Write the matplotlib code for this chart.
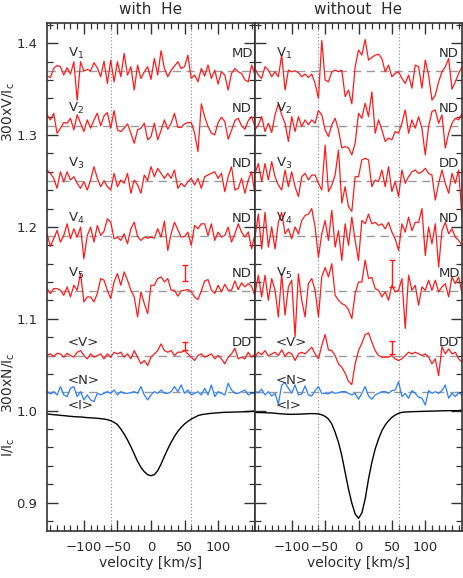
import numpy as np
import matplotlib
matplotlib.use("Agg")
import matplotlib.pyplot as plt
from matplotlib.ticker import MultipleLocator

# velocity grid of the LSD profiles (km/s)
velocity = np.arange(-155, 156, 5)

# vertical offsets of the stacked profiles
v_offsets = [1.37, 1.31, 1.25, 1.19, 1.13, 1.06]
n_offset = 1.02
v_labels = ["V$_1$", "V$_2$", "V$_3$", "V$_4$", "V$_5$", "<V>"]

# detection flags
flags_with = ["MD", "ND", "ND", "ND", "ND", "DD"]
flags_without = ["ND", "ND", "DD", "ND", "MD", "DD"]

# 300xV/Ic deviations, units of 1e-3 (with He)
with_v1 = [-5.8, -7.3, 2.5, 5.8, 4.4, -4.7, 3.3, -3.6, 9.8, -32,
           9.8, -0.4, 1.5, 0, 8.7, 3.3, -6.5, 10.5, -13.8, 11.6,
           -12, 9.8, -6.5, 18.9, -4.7, 4.4, -21, 6.2, -8.3, -1.1,
           4.4, -9.4, 13.4, -4.7, 21.8, 2.5, -6.5, 0.7, 5.1, 9.8,
           2.5, 4.4, 17, -8.3, -4.7, -12, 2.5, -5.8, 6.2, -8.3,
           0.7, -14.5, -1.1, -4.7, -21, -2.9, 2.5, -1.1, -2.9, -10,
           -12, 6.2, -4.7]
with_v2 = [12, 6.5, 13.8, -8, -2.5, 3.6, 2.9, 8.3, -4.4, 12,
           2.9, -6.2, 6.5, -2.5, 6.5, 13.8, 0, 10.9, 14.5, -2.5,
           16.7, -4.4, -6.2, -2.5, 2.2, -8, -18.9, -4.4, -2.5, 2.9,
           -15.2, -11.6, 2.9, -15.2, -5, 6.5, -3.6, 2.9, 13.8, -1.5,
           -1.8, 2.2, 3.6, 3.6, -8, -28, 24, 10, -0.7, -8,
           -9.8, 3.6, 9.4, 4.7, -14.5, -5, 5.8, 8.3, 0, -3.6,
           5.8, 10, -0.7]
with_v3 = [12, 8.3, 2.9, -8, 10, -0.7, 10, 1.1, 4.7, -2.5,
           -8, -0.7, -9.8, 1.1, 15.6, 2.9, -6.2, 0.4, -6.2, -9.8,
           8.3, -6.2, 1.1, -2.5, 8.3, -13.4, 1.1, -4.4, -13.4, 6.5,
           0.4, 15.6, 4.7, 13.8, 8.3, 2.9, 8.3, 2.9, 12, -8,
           -2.5, -6.2, -0.7, 2.9, -4.4, 2.9, -8, 4.7, 6.5, 8.3,
           10, 2.9, 8.3, -11.6, 4.7, 15.6, -9.8, -8, 2.9, -13.4,
           1.1, 10, -15.2]
with_v4 = [2.5, -11.2, -2.9, 6.2, -6.5, 0.7, 13.4, -2.9, 8, -1.1,
           9.8, -24.7, 0.7, 9.8, -6.5, 11.6, 0.7, 5.4, 18.9, 15,
           -2.9, -1.1, -4.7, 2.5, -8.3, 8, 15.2, -0.4, -4.7, -1.1,
           -2.2, -1.1, -2.2, 8, -1.1, 16.3, -15.6, 2.5, 15.2, 6.9,
           -1.1, -0.4, 4.4, -10.2, 11.6, 8, 13.4, 13.4, 0.7, 13.4,
           -4.7, 4.4, -1.1, 0.7, 9.8, -6.5, 2.5, 13.4, 4.4, -1.1,
           4.4, -13.8, 2.5]
with_v5 = [2.9, -2.5, 2.9, 2.9, 1.1, -4.4, 4.7, -6.2, 6.5, 1.1,
           19.2, -11.6, -6.2, -6.2, -11.6, -2.5, 13.8, 12, 1.1, -8,
           10.2, 19.2, 6.5, 21, 12, 1.1, -6.2, -28, -0.7, -13.4,
           -24.3, 6.5, 6.5, 13.8, 15.6, 10.2, 13.8, 1.1, 1.1, -5.4,
           0.4, 1.1, 1.8, -0.7, -6.2, -9.1, 0.4, 11.2, 12.7, 1.1,
           -2.5, 6.5, -0.7, 7.6, 1.1, 1.1, 11.2, 1.8, 9.1, 4.7,
           8.3, 5.4, -5.4]
with_vmean = [0, 1.8, -1.1, 2.5, 1.8, -1.8, 2.5, 0, -1.8, 3.6,
              5.4, 0, -3.6, 1.8, -1.8, 0, 1.8, -3.6, 1.8, -1.8,
              3.6, 1.8, 3.6, -1.8, 1.8, -3.6, 5.4, -1.8, -9, -5.4,
              -10.9, -1.8, 1.8, 5.4, 12.7, 5.4, 3.6, 5.4, 0, 3.6,
              3.6, 5.4, 1.8, -1.8, -5.4, 0, 1.8, -1.8, 0, 1.8,
              -3.6, 0, -3.6, -9, -1.8, 1.8, 8, -3.6, -1.8, -3.6,
              3.6, -1.8, 1.8]
with_n = [0.7, -1.8, 0.7, -2.9, 6.2, -2.9, -4.7, 4.4, 6.2, -4.7,
          0.7, -8.3, -2.9, -8.3, -10.2, -1.1, -2.9, -1.1, 0.7, -1.1,
          2.5, -2.9, 0.7, -1.1, -1.1, -0.4, 0.7, -1.1, 6.2, -2.9,
          -8.3, -2.9, 0.7, -1.1, 2.5, -1.1, -1.1, 0.7, 6.2, 0.7,
          8, -1.1, 2.5, -2.9, -1.1, 0.7, -2.9, 4.4, -2.9, 8,
          -4.7, 0.7, -1.1, -2.9, 9.8, 2.5, -1.1, -1.1, 0.7, 2.5,
          -2.9, -1.1, -1.1]
with_i = [0.9964, 0.996, 0.9956, 0.9953, 0.9949, 0.9946, 0.9942, 0.9938, 0.9935, 0.9933,
          0.9931, 0.9928, 0.9924, 0.9922, 0.992, 0.9917, 0.9913, 0.9909, 0.9902, 0.9891,
          0.9873, 0.9848, 0.98, 0.9746, 0.9681, 0.9608, 0.9528, 0.9448, 0.9383, 0.9336,
          0.9303, 0.9292, 0.9303, 0.9347, 0.9419, 0.9503, 0.9583, 0.9655, 0.972, 0.9775,
          0.9818, 0.9855, 0.9884, 0.9909, 0.9927, 0.9946, 0.9956, 0.9962, 0.9967, 0.9971,
          0.9974, 0.9977, 0.998, 0.9982, 0.9983, 0.9984, 0.9985, 0.9986, 0.9987, 0.9989,
          0.999, 0.9993, 0.9996]

# without He
wo_v1 = [2.5, -4.7, -8.3, 4.4, 0.7, -6.5, -1.1, -6.5, 17, -21,
         0.7, -1.1, 0, -2.2, -6.5, -3.6, -7.3, -3.6, -13.8, -30,
         33, -10, -12, -1.1, 0.7, -1, 0.7, -28, -21, -36,
         4.4, 22.5, 17, 34, 11.6, 14.5, 17, 18, 13.4, -1.1,
         6.2, -6.5, -2.9, -1.1, -8.3, -13.8, -4.7, -19, 6.2, 4.4,
         -19, 11.6, -4.7, -32, -26.5, -12, -1.1, 4.4, 13.4, -20,
         -12, -2.9, 4.4]
wo_v2 = [-4.4, 1.1, 10, -6.2, 2.9, -7.3, 12, 24, 12, 2.9,
         -17, 10, -6.2, 10, -0.7, 6.5, 1.1, 6.5, 2.9, 16.7,
         12, -4.4, -11.6, 1.1, 8.3, -4.4, -24, -22.5, -24, -31.6,
         -19, 13.8, 8.3, 24.7, 10, 37, -8, 6.5, -4.4, -17,
         -13.4, -15, -6.2, -8, 2.9, 17.4, -8, 6.5, -2.5, 10,
         -2.5, -31.6, -0.7, 15.6, 17.4, 2.9, 12, -24, -8, 2.9,
         8.3, 6.5, 13.8]
wo_v3 = [8.3, 19, -0.7, 19, 1.1, 21, 4.7, -4.4, -9.8, 12,
         -6.2, 10, -6.2, -17, 4.7, 8.3, 1.1, 6.5, 6.5, -2.5,
         -9.8, 39, -11.6, -4.4, 6.5, 33.8, -24, -6.2, -28, -33,
         4.7, 4.7, 23, 24.7, 23, -6.2, 1.1, -0.7, 12, -6.2,
         15.6, -11.6, -0.7, -17, 12, -2.5, 4.7, 10, 12, 8.3,
         10, 13.8, 8.3, 6.5, -20.7, -2.5, 12, -2.5, -13.4, 8.3,
         -2.5, 12, -40]
wo_v4 = [-1, 24, -14, 26, -12, 10, -14, 15, 26, 2.5,
         8, -3, 10, 2.5, 17, 22.5, 24, 30, 10, -23,
         2.5, 17, -4.7, 28, -12, 6, -26.5, 13.4, -10, 20.7,
         -4.7, -26.5, 17, 13.4, 24, 13.4, 15, 11.6, 13.4, 8,
         15, 4.4, -3, -15.6, 13.4, 4.4, 20.7, 6, 15, 15,
         30, -21, 10, -8.3, 13.4, -33.8, 6, 15, 2.5, 8,
         -1, -4.7, -10]
wo_v5 = [-2.5, 17.4, -6.2, 17.4, -9.8, 13.8, 1, -28, 19, -26,
         4.7, 12, -49.7, 19, -9.8, -28, 8.3, 13.8, 1, -28,
         15.6, 25.8, 15.6, 30, -4.4, -9.8, -13.4, -15.2, -20, -29.8,
         -2.5, 10, 10, 33.8, 13.8, 15, 2.9, 1, -6.2, -0.7,
         -9.8, 6.5, -0.7, 1, 13.8, -40.6, 17.4, 1, 6.5, -15.2,
         4.7, 1, 12, 1, 12, -0.7, 4.7, 8.3, -6.2, 15.6,
         8.3, 15.6, -2.5]
wo_vmean = [-1.8, 3.6, 1, 5.4, -0.7, 1.8, 3.6, 0, 6.2, -0.7,
            3.6, 1.8, -5.4, 1.8, 3.6, 1.8, 5.4, 9, 1.8, -3.6,
            10.9, 22.9, 6.2, 5.4, 0, -9, -12.7, -19.2, -28, -31.6,
            -9, 5.4, 13.4, 22.9, 24.7, 14.5, 5.4, 0, -1.8, -1.8,
            -1.8, 0, -3.6, -5.4, -3.6, 0, 3.6, 1.8, 3.6, 1.8,
            0, 1.8, -1.8, -9, -3.6, -21.8, 9.8, 1.8, 7.3, 1.8,
            3.6, -3.6, -7.3]
wo_n = [0.7, -0.4, 3.3, -2.9, 0.7, -4, -1.1, -12.7, 8, 10.5,
        4.4, -1.1, 8, -2.9, -1.8, 6.9, -2.9, -4, 1.8, 6.2,
        -1.1, -1.1, -1.8, 0.7, -1.1, -0.4, 0.7, 0.7, -1.1, -2.9,
        -1.1, -7.6, -1.1, 6.2, -4, -7.6, -2.9, -1.1, 0.7, 0.7,
        -1.1, 1.8, 2.5, 11.6, -4.7, -1.1, -6.5, 1.8, -1.1, -5.4,
        -6.5, -13.8, 1.8, -1.1, 0.7, -1.1, 1.8, 8, -6.5, -1.1,
        -4.7, -0.4, -2.9]
wo_i = [0.998, 0.998, 0.9979, 0.9978, 0.9976, 0.9975, 0.9972, 0.9968, 0.9965, 0.9963,
        0.9961, 0.996, 0.9961, 0.9962, 0.9963, 0.9965, 0.9967, 0.9968, 0.9967, 0.9965,
        0.9955, 0.9938, 0.9909, 0.9855, 0.9764, 0.9655, 0.951, 0.9328, 0.9147, 0.8994,
        0.8875, 0.8828, 0.8886, 0.9038, 0.9256, 0.9437, 0.9583, 0.9691, 0.9782, 0.9844,
        0.9891, 0.9927, 0.9953, 0.9971, 0.9982, 0.9985, 0.9987, 0.9989, 0.999, 0.9991,
        0.9992, 0.9993, 0.9994, 0.9995, 0.9996, 0.9997, 0.9998, 0.9999, 1.0, 1.0,
        1.0, 1.0, 1.0007]

# error bars (velocity, centre, half length) for V5 and <V>
err_with = [(50, 1.150, 0.009), (50, 1.070, 0.0045)]
err_without = [(50, 1.149, 0.0145), (50, 1.069, 0.007)]

RED = "#ff1a1a"
BLUE = "#2a7fff"
GREY = "#9a9a9a"
TXT = "#2b2b2b"

W, H = 463, 578
fig = plt.figure(figsize=(W / 100, H / 100), dpi=100)
ax1 = fig.add_axes([47 / W, 47 / H, 208 / W, 508 / H])
ax2 = fig.add_axes([255 / W, 47 / H, 207 / W, 508 / H])

panels = [
    (ax1, [with_v1, with_v2, with_v3, with_v4, with_v5, with_vmean], with_n, with_i, flags_with, err_with, "with  He"),
    (ax2, [wo_v1, wo_v2, wo_v3, wo_v4, wo_v5, wo_vmean], wo_n, wo_i, flags_without, err_without, "without  He"),
]

for ax, vs, n, ii, flags, errs, title in panels:
    for x in (-60, 60):
        ax.axvline(x, color="#888888", lw=0.8, ls=(0, (1, 2)))
    for k, (dev, off) in enumerate(zip(vs, v_offsets)):
        ax.axhline(off, color=GREY, lw=1.0, ls=(0, (6, 4)))
        ax.plot(velocity, off + np.array(dev) / 1000.0, color=RED, lw=0.9)
        ypos = off + (0.019 if k < 5 else 0.014)
        ax.text(-124, ypos, v_labels[k], fontsize=9.5, color=TXT, ha="left", va="center")
        ax.text(120, ypos, flags[k], fontsize=9.5, color=TXT, ha="left", va="center")
    ax.axhline(n_offset, color=GREY, lw=1.0, ls=(0, (6, 4)))
    ax.plot(velocity, n_offset + np.array(n) / 1000.0, color=BLUE, lw=0.9)
    ax.text(-124, n_offset + 0.013, "<N>", fontsize=9.5, color=TXT, ha="left", va="center")
    ax.plot(velocity, ii, color="black", lw=1.0)
    ax.text(-124, 1.0054, "<I>", fontsize=9.5, color=TXT, ha="left", va="center")
    for xe, ce, he in errs:
        ax.errorbar([xe], [ce], yerr=[he], fmt="none", ecolor=RED, elinewidth=1.0, capsize=2.5, capthick=1.0)

    ax.set_xlim(-155, 155)
    ax.set_ylim(0.869, 1.422)
    ax.xaxis.set_minor_locator(MultipleLocator(10))
    ax.yaxis.set_minor_locator(MultipleLocator(0.02))
    ax.set_xticks([-100, -50, 0, 50, 100])
    ax.set_xticklabels(["\u2212100", "\u221250", "0", "50", "100"])
    ax.tick_params(which="both", direction="in", top=True, right=True, colors="#333333",
                   labelcolor=TXT, labelsize=9.5)
    ax.tick_params(which="major", length=8, width=1.0, pad=7)
    ax.tick_params(which="minor", length=4, width=0.9)
    for s in ax.spines.values():
        s.set_linewidth(1.2)
        s.set_color("#333333")
    ax.set_xlabel("velocity [km/s]", fontsize=10, color=TXT, labelpad=2)
    x0 = ax.get_position().x0 + ax.get_position().width / 2
    fig.text(x0, 1 - 10 / H, title, fontsize=11, color=TXT, ha="center", va="center")

ax1.set_yticks([0.9, 1.0, 1.1, 1.2, 1.3, 1.4])
ax1.set_yticklabels(["0.9", "1.0", "1.1", "1.2", "1.3", "1.4"])
ax2.set_yticks([0.9, 1.0, 1.1, 1.2, 1.3, 1.4])
ax2.tick_params(labelleft=False)

fig.text(9 / W, 1 - 112 / H, "300xV/I$_\\mathrm{c}$", rotation=90, fontsize=10, color=TXT, ha="center", va="center")
fig.text(9 / W, 1 - 383 / H, "300xN/I$_\\mathrm{c}$", rotation=90, fontsize=10, color=TXT, ha="center", va="center")
fig.text(9 / W, 1 - 447 / H, "I/I$_\\mathrm{c}$", rotation=90, fontsize=10, color=TXT, ha="center", va="center")

fig.savefig("out.png", dpi=100)
